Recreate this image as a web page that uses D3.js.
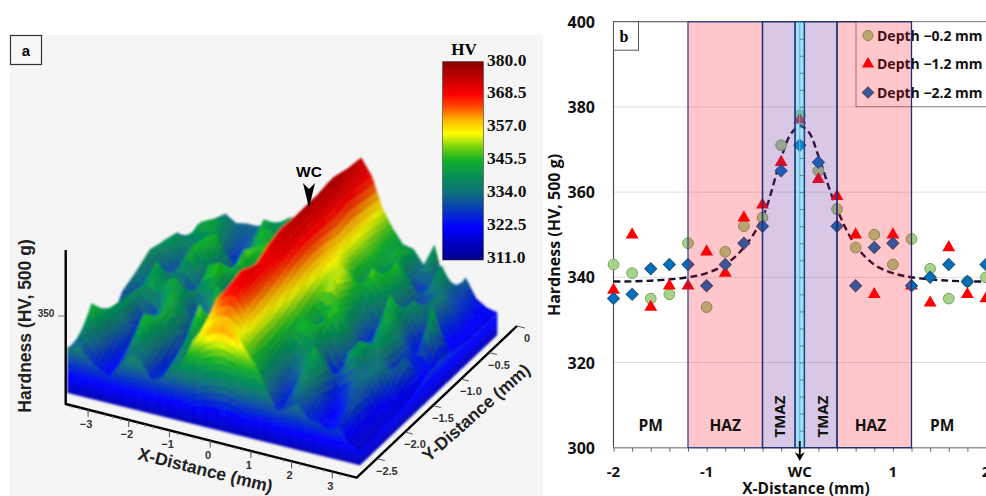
<!DOCTYPE html>
<html>
<head>
<meta charset="utf-8">
<script src="https://cdn.jsdelivr.net/npm/d3@7"></script>
<style>
html,body{margin:0;padding:0;background:#fff;overflow:hidden;}
svg{display:block;}
text{font-family:"Liberation Sans",Arial,sans-serif;}
.cal{font-family:"Open Sans","Noto Sans",sans-serif;font-weight:700;}
</style>
</head>
<body>
<div class="canvas"></div>
<script>
//panel b data
const xDepth = [-2,-1.8,-1.6,-1.4,-1.2,-1,-0.8,-0.6,-0.4,-0.2,0,0.2,0.4,0.6,0.8,1,1.2,1.4,1.6,1.8,2];
const depth02 = [343,341,335,336,348,333,346,352,354,371,378,365,356,347,350,343,349,342,335,339,340];
const depth12 = [337,350,333,338,338,346,341,354,357,367,377,363,359,350,336,350,338,334,347,336,335];
const depth22 = [335,336,342,343,343,338,343,348,352,365,371,367,352,338,347,348,338,340,343,339,343];
const fitX = [-2,-1.6,-1.2,-1,-0.8,-0.6,-0.4,-0.2,-0.1,0,0.1,0.2,0.4,0.6,0.8,1,1.2,1.6,2];
const fitY = [339,339.2,340,341,343,347,354,368,373.5,375.5,374,368.5,356,347.5,343,341,340,339.2,339];
const hvTicks = [300,320,340,360,380,400];
const legendLabels = ['Depth \u22120.2 mm','Depth \u22121.2 mm','Depth \u22122.2 mm'];

//panel a data, rows go from Y=0 (back) to Y=-2.5 (front), columns X=-3.5..3.5
const gridX = d3.range(29).map(i=>-3.5+i*0.25);
const gridY = [0,-0.25,-0.5,-0.75,-1,-1.25,-1.5,-1.75,-2,-2.25,-2.5];
const surfaceHV = [
[322,329,335,332,333,333,335,336,340,342,345,347,352,360,368,375,368,355,347,341,340,334,344,327,324,333,325,322,321],
[325,336,338,340,332,330,334,344,340,336,340,350,349,359,369,376,369,357,348,342,347,332,326,334,343,330,328,323,321],
[336,334,342,345,340,326,328,336,347,344,335,342,352,362,372,378,371,358,350,344,335,347,340,328,326,338,330,324,321],
[338,342,334,330,344,347,336,325,332,346,348,338,350,361,370,377,369,357,349,337,349,345,336,326,339,336,326,322,322],
[340,330,326,337,346,340,328,322,340,350,336,330,352,361,371,377,370,359,354,351,340,332,326,346,340,326,322,346,324],
[336,333,343,336,328,324,335,347,349,330,324,345,351,362,372,376,370,360,350,355,345,333,325,335,345,338,328,322,323],
[333,322,338,344,342,345,340,326,333,346,342,328,350,360,370,374,369,358,346,336,348,344,330,324,337,342,326,335,320],
[322,334,340,326,323,337,345,340,326,322,334,346,349,358,366,371,366,355,344,348,342,326,322,338,344,333,337,328,318],
[325,337,341,332,323,327,340,345,330,325,350,342,345,356,370,372,364,352,342,331,336,344,339,323,326,335,331,320,318],
[329,346,340,326,324,335,347,340,325,326,340,338,347,362,368,370,362,352,340,330,325,337,340,328,322,324,333,320,317],
[331,333,328,325,323,329,335,333,326,328,335,337,348,354,357,358,356,350,344,335,326,328,331,326,325,323,325,319,317]
];
const cbarStops = [311,322.5,334,340,345.5,350,355,360,364,368.5,380];
const cbarColors = ['#000088','#0000ff','#0f6e80','#058f55','#10b028','#70d010','#ffff00','#ffb000','#ff5000','#ff0000','#8b0000'];
const cbarLabels = ['380.0','368.5','357.0','345.5','334.0','322.5','311.0'];

const W = 986, H = 496;
const canvas = d3.select('.canvas').append('svg').attr('width',W).attr('height',H);

/******** panel a ********/
const a = canvas.append('g').attr('id','panel-a');
a.append('rect').attr('x',10).attr('y',35).attr('width',533).attr('height',461).attr('fill','#f5f5f5');
a.append('rect').attr('x',10.5).attr('y',35.5).attr('width',31).attr('height',29)
	.attr('fill','#f8f8f8').attr('stroke','#333').attr('stroke-width',1.2);
a.append('text').attr('x',26).attr('y',56).attr('text-anchor','middle')
	.attr('font-size',15).attr('font-weight',700).text('a');

const hvColor = d3.scaleLinear().domain(cbarStops).range(cbarColors).clamp(true);

//projection of the surface
const uScale = d3.scaleLinear().domain([-3.5,3.5]).range([0,1]);
const vScale = d3.scaleLinear().domain([-2.5,0]).range([0,1]);
const hScale = d3.scaleLinear().domain([311,380]).range([0,154.5]);
const FL = [67.7,392.7], AX = [292.3,72.3], AY = [137,-130];
function project(X,Y,hv){
	const u = uScale(X), v = vScale(Y);
	return [FL[0]+u*AX[0]+v*AY[0], FL[1]+u*AX[1]+v*AY[1]-hScale(hv)];
}
function hvAt(c,r){ //c,r are fractional grid indices
	c = Math.max(0,Math.min(c,gridX.length-1)); r = Math.max(0,Math.min(r,gridY.length-1));
	const c0 = Math.min(Math.floor(c),gridX.length-2), r0 = Math.min(Math.floor(r),gridY.length-2);
	const fc = c-c0, fr = r-r0;
	const top = surfaceHV[r0][c0]*(1-fc)+surfaceHV[r0][c0+1]*fc;
	const bot = surfaceHV[r0+1][c0]*(1-fc)+surfaceHV[r0+1][c0+1]*fc;
	return top*(1-fr)+bot*fr;
}
const posAt = (c,r)=>[gridX[0]+c*0.25, gridY[0]-r*0.25];

const polys = [];
const subs = 4;
for(let r=0;r<gridY.length-1;r++){
	for(let c=0;c<gridX.length-1;c++){
		for(let i=0;i<subs;i++){
			for(let j=0;j<subs;j++){
				const cs = [[c+j/subs,r+i/subs],[c+(j+1)/subs,r+i/subs],[c+(j+1)/subs,r+(i+1)/subs],[c+j/subs,r+(i+1)/subs]];
				const pts = cs.map(p=>{const xy=posAt(p[0],p[1]);return project(xy[0],xy[1],hvAt(p[0],p[1]));});
				const mc = c+(j+.5)/subs, mr = r+(i+.5)/subs;
				const mean = hvAt(mc,mr);
				const slopeX = hvAt(mc+.5,mr)-hvAt(mc-.5,mr);
				const shade = Math.max(-0.35,Math.min(0.35,slopeX/35));
				polys.push({pts:pts,fill:d3.rgb(hvColor(mean)).brighter(shade).formatHex()});
			}
		}
	}
}
//front and right walls
function wall(list){
	for(let k=0;k<list.length-1;k++){
		const p0 = list[k], p1 = list[k+1];
		for(let s=0;s<subs;s++){
			const t0 = s/subs, t1 = (s+1)/subs;
			const h0 = p0.hv+(p1.hv-p0.hv)*t0, h1 = p0.hv+(p1.hv-p0.hv)*t1;
			const X0 = p0.X+(p1.X-p0.X)*t0, X1 = p0.X+(p1.X-p0.X)*t1;
			const Y0 = p0.Y+(p1.Y-p0.Y)*t0, Y1 = p0.Y+(p1.Y-p0.Y)*t1;
			const bands = 14;
			for(let b=0;b<bands;b++){
				const f0 = b/bands, f1 = (b+1)/bands;
				const lo = f=>311+(h0-311)*f, hi = f=>311+(h1-311)*f;
				polys.push({
					pts:[project(X0,Y0,lo(f0)),project(X1,Y1,hi(f0)),project(X1,Y1,hi(f1)),project(X0,Y0,lo(f1))],
					fill:hvColor((lo(f0)+lo(f1)+hi(f0)+hi(f1))/4+4)
				});
			}
		}
	}
}
wall(gridY.map((y,r)=>({X:3.5,Y:y,hv:surfaceHV[r][28]})));
wall(gridX.map((x,c)=>({X:x,Y:-2.5,hv:surfaceHV[10][c]})));

const blur = canvas.append('defs').append('filter').attr('id','soft')
	.attr('x','-2%').attr('y','-2%').attr('width','104%').attr('height','104%');
blur.append('feGaussianBlur').attr('stdDeviation',0.8);

a.append('g').attr('filter','url(#soft)').selectAll('polygon').data(polys).enter().append('polygon')
	.attr('points',d=>d.pts.map(p=>p[0].toFixed(1)+','+p[1].toFixed(1)).join(' '))
	.attr('fill',d=>d.fill).attr('stroke',d=>d.fill).attr('stroke-width',0.6);

//3d axes
const corner0 = [65.7,404], corner1 = [356.7,477.7], corner2 = [517,326];
a.append('path').attr('d',`M65.7,250L${corner0}L${corner1}L${corner2}`)
	.attr('fill','none').attr('stroke','#000').attr('stroke-width',2.4).attr('stroke-linejoin','round');
const axX = d3.scaleLinear().domain([-3.55,3.6]).range([0,1]);
const onX = v=>[corner0[0]+axX(v)*(corner1[0]-corner0[0]),corner0[1]+axX(v)*(corner1[1]-corner0[1])];
const axY = d3.scaleLinear().domain([-2.86,0]).range([0,1]);
const onY = v=>[corner1[0]+axY(v)*(corner2[0]-corner1[0]),corner1[1]+axY(v)*(corner2[1]-corner1[1])];
d3.range(-3.4,3.5,0.2).forEach(v=>{
	const p = onX(v);
	a.append('line').attr('x1',p[0]).attr('y1',p[1]).attr('x2',p[0]).attr('y2',p[1]+3).attr('stroke','#888').attr('stroke-width',0.7);
});
[-3,-2,-1,0,1,2,3].forEach(v=>{
	const p = onX(v);
	a.append('line').attr('x1',p[0]).attr('y1',p[1]).attr('x2',p[0]).attr('y2',p[1]+7).attr('stroke','#555').attr('stroke-width',1);
	a.append('text').attr('x',p[0]-2).attr('y',p[1]+18).attr('text-anchor','middle')
		.attr('font-size',11).attr('font-weight',700).attr('fill','#333').text(v<0?'\u2212'+(-v):v);
});
[0,-0.5,-1,-1.5,-2,-2.5].forEach(v=>{
	const p = onY(v);
	a.append('line').attr('x1',p[0]).attr('y1',p[1]).attr('x2',p[0]+8).attr('y2',p[1]+2).attr('stroke','#555').attr('stroke-width',1);
	a.append('text').attr('x',p[0]+10).attr('y',p[1]+16).attr('text-anchor','middle')
		.attr('font-size',11).attr('font-weight',700).attr('fill','#333').text(v==0?'0':'\u2212'+(-v).toFixed(1));
});
a.append('line').attr('x1',58).attr('y1',316).attr('x2',65).attr('y2',316).attr('stroke','#777');
a.append('text').attr('x',46).attr('y',317).attr('text-anchor','middle').attr('font-size',10)
	.attr('font-weight',700).attr('fill','#333').text('350');
a.append('text').attr('transform','translate(31,326) rotate(-90)').attr('text-anchor','middle')
	.attr('font-size',17.5).attr('font-weight',700).attr('fill','#222').text('Hardness (HV, 500 g)');
a.append('text').attr('transform','translate(204,476) rotate(14)').attr('text-anchor','middle')
	.attr('font-size',17.5).attr('font-weight',700).attr('fill','#222').text('X-Distance (mm)');
a.append('text').attr('transform','translate(480,417) rotate(-41.5)').attr('text-anchor','middle')
	.attr('font-size',17.5).attr('font-weight',700).attr('fill','#222').text('Y-Distance (mm)');

//wc marker
a.append('text').attr('x',309).attr('y',177).attr('text-anchor','middle')
	.attr('font-size',15.5).attr('font-weight',700).text('WC');
a.append('path').attr('d','M303,183L309,189L315,183L309,208Z').attr('fill','#000');

//colorbar
const cbY = d3.scaleLinear().domain([311,380]).range([260,61.7]);
const grad = canvas.select('defs').append('linearGradient').attr('id','cbar')
	.attr('x1',0).attr('x2',0).attr('y1',1).attr('y2',0);
cbarStops.forEach((s,i)=>{
	grad.append('stop').attr('offset',(s-311)/69).attr('stop-color',cbarColors[i]);
});
a.append('rect').attr('x',442.7).attr('y',61.7).attr('width',40.6).attr('height',198.3)
	.attr('fill','url(#cbar)').attr('stroke','#333').attr('stroke-width',0.6);
cbarLabels.forEach(l=>{
	a.append('text').attr('x',487).attr('y',cbY(+l)+(+l==380?4:(+l==311?2.5:3.5))).attr('font-size',17.5)
		.attr('font-weight',700).style('font-family','"Liberation Serif",serif').attr('fill','#111').text(l);
});
a.append('text').attr('x',464).attr('y',55).attr('text-anchor','middle').attr('font-size',17)
	.attr('font-weight',700).style('font-family','"Liberation Serif",serif').text('HV');

/******** panel b ********/
const b = canvas.append('g').attr('id','panel-b');
const x = d3.scaleLinear().domain([-2,2]).range([613.5,986]);
const y = d3.scaleLinear().domain([300,400]).range([447.7,21.7]);

hvTicks.filter(t=>t>300&&t<400).forEach(t=>{
	b.append('line').attr('x1',x(-2)).attr('x2',W).attr('y1',y(t)).attr('y2',y(t)).attr('stroke','#dedede');
});
b.append('path').attr('d',`M${x(-2)},${y(300)}V${y(400)}H${W}`).attr('fill','none').attr('stroke','#444').attr('stroke-width',1.1);
b.append('line').attr('x1',x(-2)).attr('x2',W).attr('y1',y(300)).attr('y2',y(300)).attr('stroke','#999').attr('stroke-width',1.4);

const xAxis = d3.axisBottom(x).tickValues(d3.range(-2,2.01,0.2)).tickSize(4).tickFormat('');
const xg = b.append('g').attr('transform',`translate(0,${y(300)})`).call(xAxis);
xg.select('.domain').remove();
xg.selectAll('line').attr('stroke','#666');

hvTicks.forEach(t=>{
	b.append('text').attr('class','cal').attr('x',595).attr('y',y(t)+6).attr('text-anchor','end')
		.attr('font-size',16).attr('fill','#111').text(t);
});
[[-2,'-2'],[-1,'-1'],[0,'WC'],[1,'1'],[2,'2']].forEach(d=>{
	b.append('text').attr('class','cal').attr('x',x(d[0])).attr('y',477).attr('text-anchor','middle')
		.attr('font-size',15).attr('fill','#111').text(d[1]);
});
b.append('text').attr('class','cal').attr('x',806).attr('y',494).attr('text-anchor','middle')
	.attr('font-size',15.5).attr('fill','#111').text('X-Distance (mm)');
b.append('text').attr('class','cal').attr('transform','translate(560,235) rotate(-90)').attr('text-anchor','middle')
	.attr('font-size',16).attr('fill','#111').text('Hardness (HV, 500 g)');

//fit
const fitLine = d3.line().x((d,i)=>x(fitX[i])).y(d=>y(d)).curve(d3.curveCatmullRom);
b.append('path').datum(fitY).attr('d',fitLine).attr('fill','none').attr('stroke','#1a0d2e')
	.attr('stroke-width',2.4).attr('stroke-dasharray','7,4');

//legend box
b.append('rect').attr('x',856).attr('y',y(400)).attr('width',W-856+2).attr('height',85)
	.attr('fill','#fff').attr('stroke','#888').attr('stroke-width',1);

const circle = d3.symbol().type(d3.symbolCircle).size(90);
const tri = d3.symbol().type(d3.symbolTriangle).size(72);
const sq = d3.symbol().type(d3.symbolSquare).size(72);
function markers(vals,gen,fill,stroke,rot){
	b.append('g').selectAll('path').data(vals).enter().append('path')
		.attr('d',gen)
		.attr('transform',(d,i)=>`translate(${x(xDepth[i])},${y(d)}) rotate(${rot})`)
		.attr('fill',fill).attr('stroke',stroke).attr('stroke-width',1);
}
markers(depth02,circle,'#a9d18e','#6fa84f',0);
markers(depth12,tri,'#ff0000','none',0);
markers(depth22,sq,'#0070c0','#1f4e79',45);

const legendSym = [[circle,'#a9d18e','#6fa84f',0],[tri,'#ff0000','none',0],[sq,'#0070c0','#1f4e79',45]];
legendLabels.forEach((l,i)=>{
	const ly = 35.5+i*28.5;
	b.append('path').attr('d',legendSym[i][0]).attr('transform',`translate(868,${ly}) rotate(${legendSym[i][3]}) scale(0.95)`)
		.attr('fill',legendSym[i][1]).attr('stroke',legendSym[i][2]);
	b.append('text').attr('class','cal').attr('x',877).attr('y',ly+5).attr('font-size',14).attr('fill','#111').text(l);
});

//zones, they sit over the markers
const zoneTop = y(400), zoneH = y(300)-y(400);
function zone(x0,x1,fill,alpha,stroke){
	b.append('rect').attr('x',x(x0)).attr('y',zoneTop).attr('width',x(x1)-x(x0)).attr('height',zoneH)
		.attr('fill',fill).attr('fill-opacity',alpha).attr('stroke',stroke).attr('stroke-width',1.3);
}
zone(-1.2,-0.4,'#ff0010',0.22,'#2f4b8f');
zone(0.4,1.2,'#ff0010',0.22,'#1f2f70');
zone(-0.4,-0.05,'#7030a0',0.27,'#1f2f70');
zone(0.05,0.4,'#7030a0',0.27,'#1f2f70');
zone(-0.05,0.05,'#00b0f0',0.38,'#1f3f80');
b.append('line').attr('x1',x(0)).attr('x2',x(0)).attr('y1',zoneTop).attr('y2',y(300)).attr('stroke','#7fa8c0');

//minor ticks on the wc line
const wcAxis = d3.axisRight(y).tickValues(d3.range(304,400,4)).tickSize(4.5).tickFormat('');
const wcg = b.append('g').attr('transform',`translate(${x(0)},0)`).call(wcAxis);
wcg.select('.domain').remove();
wcg.selectAll('line').attr('stroke','#3f6f90').attr('stroke-width',0.8);

[['PM',-1.6],['HAZ',-0.8],['HAZ',0.76],['PM',1.53]].forEach(d=>{
	b.append('text').attr('class','cal').attr('x',x(d[1])).attr('y',431).attr('text-anchor','middle')
		.attr('font-size',15.5).attr('fill','#111').text(d[0]);
});
[-0.21,0.25].forEach(v=>{
	b.append('text').attr('class','cal').attr('transform',`translate(${x(v)+5},416.5) rotate(-90)`).attr('text-anchor','middle')
		.attr('font-size',15).attr('fill','#111').text('TMAZ');
});

//wc arrow
b.append('line').attr('x1',x(0)).attr('x2',x(0)).attr('y1',441).attr('y2',456).attr('stroke','#000').attr('stroke-width',1.8);
b.append('path').attr('d',`M${x(0)-5},452L${x(0)},461L${x(0)+5},452L${x(0)},455Z`).attr('fill','#000');

//b label
b.append('rect').attr('x',613.5).attr('y',21.7).attr('width',25).attr('height',28.5)
	.attr('fill','#fff').attr('stroke','#555').attr('stroke-width',1);
b.append('text').attr('x',624).attr('y',42).attr('text-anchor','middle').attr('font-size',16)
	.attr('font-weight',700).style('font-family','"Liberation Serif",serif').text('b');
</script>
</body>
</html>
